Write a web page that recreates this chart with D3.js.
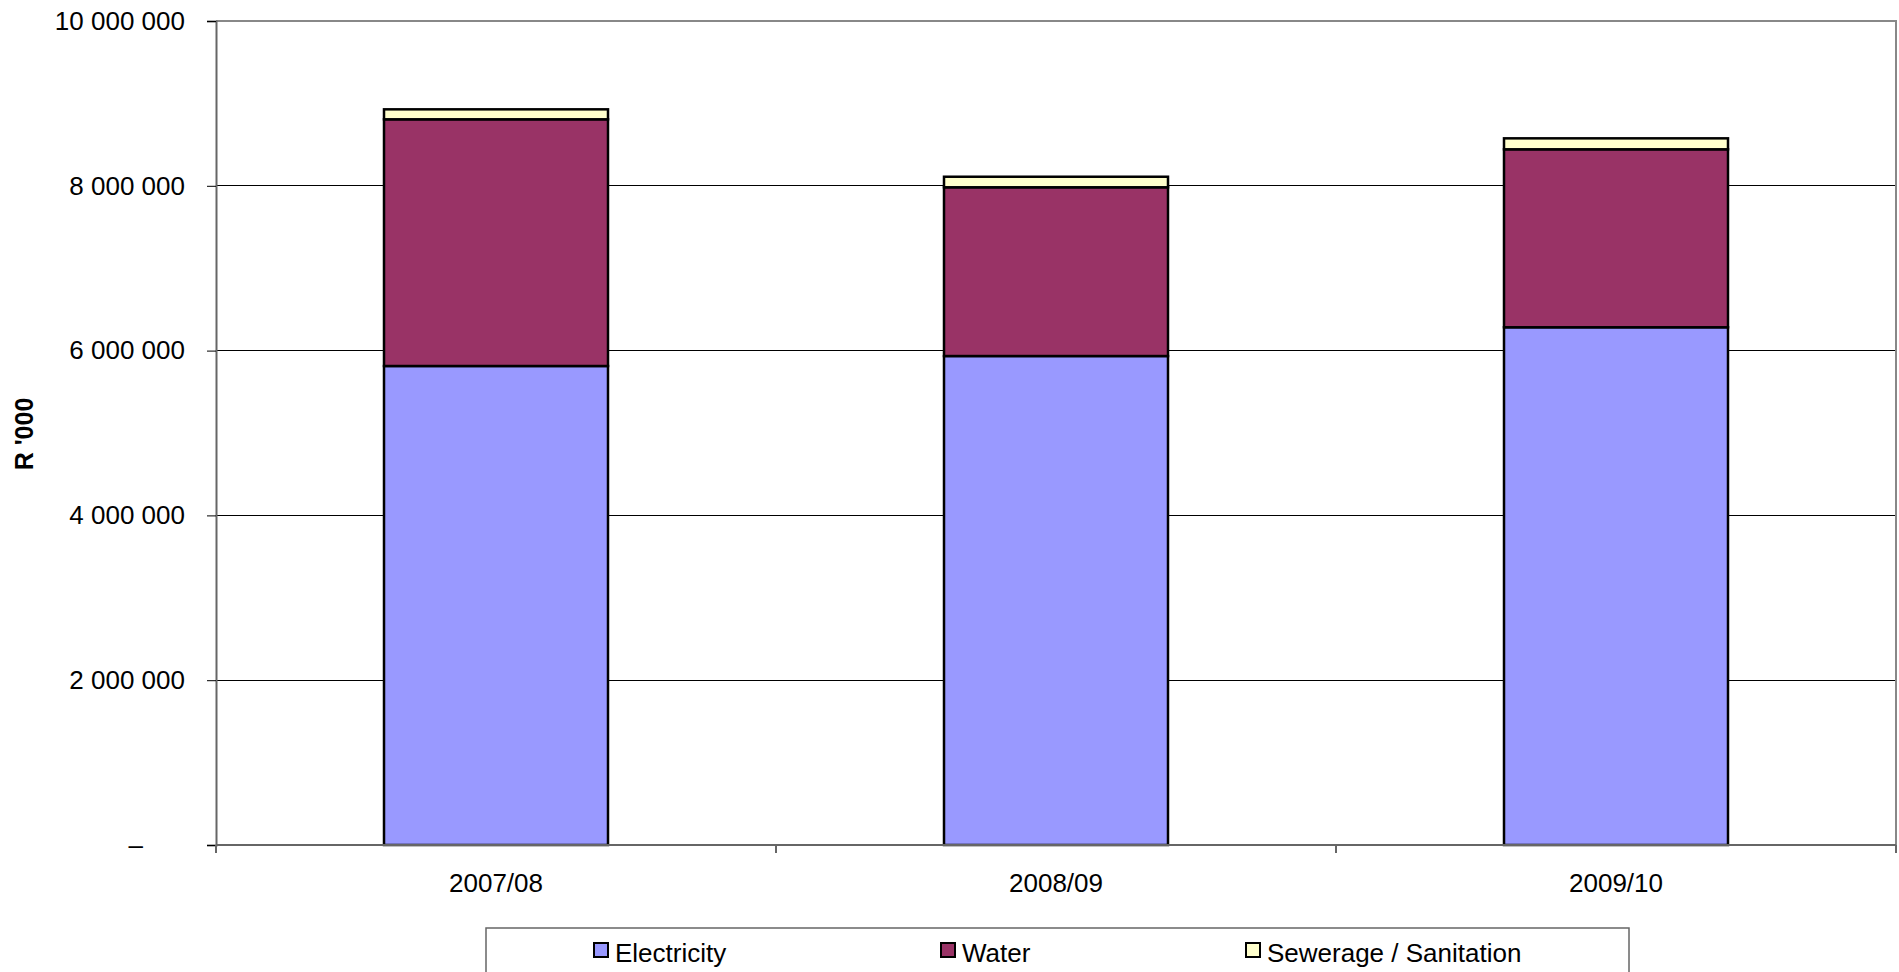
<!DOCTYPE html>
<html>
<head>
<meta charset="utf-8">
<script src="https://cdn.jsdelivr.net/npm/d3@7"></script>
<style>
  html, body { margin: 0; padding: 0; background: #fff; }
  svg { display: block; font-family: "Liberation Sans", Arial, sans-serif; }
</style>
</head>
<body>
<svg id="chart" width="1899" height="972"></svg>
<script>
const categories = ["2007/08", "2008/09", "2009/10"];
const seriesNames = ["Electricity", "Water", "Sewerage / Sanitation"];
const electricity = [5813000, 5934000, 6283000];
const water = [2994000, 2048000, 2160000];
const sewerage = [121000, 128000, 133000];
const yTicks = [0, 2000000, 4000000, 6000000, 8000000, 10000000];
const colors = ["#9999FF", "#993366", "#FFFFCC"];

const svg = d3.select("#chart");
const margin = { left: 216, top: 21, right: 3, bottom: 127 };
const W = 1899, H = 972;
const plotW = W - margin.left - margin.right;
const plotH = H - margin.top - margin.bottom;

const rows = categories.map((c, i) => ({
  cat: c,
  "Electricity": electricity[i],
  "Water": water[i],
  "Sewerage / Sanitation": sewerage[i]
}));
const stacked = d3.stack().keys(seriesNames)(rows);

const x = d3.scaleBand().domain(categories).range([0, plotW])
  .paddingInner(0.6).paddingOuter(0.3);
const y = d3.scaleLinear().domain([0, 10000000]).range([plotH, 0]);

const loc = d3.formatLocale({ decimal: ".", thousands: " ", grouping: [3], currency: ["", ""] });
const fmt = loc.format(",.0f");

const g = svg.append("g").attr("transform", `translate(${margin.left},${margin.top})`);

// gridlines
g.append("g").selectAll("line").data(yTicks.filter(v => v > 0 && v < 10000000)).join("line")
  .attr("x1", 0).attr("x2", plotW)
  .attr("y1", d => y(d)).attr("y2", d => y(d))
  .attr("stroke", "#000").attr("stroke-width", 1).attr("shape-rendering", "crispEdges");

// plot border top/right
g.append("path")
  .attr("d", `M0,${y(10000000)}H${plotW}V${plotH}`)
  .attr("fill", "none").attr("stroke", "#888").attr("stroke-width", 2);

// bars
g.append("g").selectAll("g").data(stacked).join("g")
  .attr("fill", (d, i) => colors[i])
  .selectAll("rect").data(d => d).join("rect")
  .attr("x", d => x(d.data.cat))
  .attr("width", x.bandwidth())
  .attr("y", d => y(d[1]))
  .attr("height", d => y(d[0]) - y(d[1]))
  .attr("stroke", "#000").attr("stroke-width", 2.5);

// y axis
const yAxis = g.append("g")
  .call(d3.axisLeft(y).tickValues(yTicks).tickSize(9).tickPadding(22)
    .tickFormat(d => d === 0 ? "\u2013" : fmt(d)));
yAxis.select(".domain").attr("stroke", "#666").attr("stroke-width", 2);
yAxis.selectAll(".tick line").attr("stroke", "#000");
yAxis.selectAll(".tick text").attr("font-size", 26).attr("fill", "#000")
  .attr("font-family", "'Liberation Sans', Arial, sans-serif");
yAxis.selectAll(".tick").filter(d => d === 0).select("text").attr("dx", -42);

// x axis
const step = x.step();
const bounds = categories.map(c => x(c) - step * x.paddingOuter()).concat([plotW]);
const xAxis = g.append("g").attr("transform", `translate(0,${plotH})`);
xAxis.append("line").attr("x1", 0).attr("x2", plotW).attr("y1", 0).attr("y2", 0)
  .attr("stroke", "#666").attr("stroke-width", 2);
xAxis.selectAll("line.tk").data(bounds).join("line").attr("class", "tk")
  .attr("x1", d => d).attr("x2", d => d).attr("y1", 0).attr("y2", 8)
  .attr("stroke", "#666").attr("stroke-width", 2);
xAxis.selectAll("text").data(categories).join("text")
  .attr("x", d => x(d) + x.bandwidth() / 2)
  .attr("y", 47)
  .attr("text-anchor", "middle")
  .attr("font-size", 26).attr("fill", "#000")
  .text(d => d);

// y title
svg.append("text")
  .attr("transform", "translate(33,434) rotate(-90)")
  .attr("text-anchor", "middle")
  .attr("font-size", 25).attr("font-weight", "bold")
  .text("R '000");

// legend
const lg = svg.append("g");
lg.append("rect").attr("x", 486).attr("y", 928).attr("width", 1143).attr("height", 60)
  .attr("fill", "#fff").attr("stroke", "#666").attr("stroke-width", 1.5);
const legendX = [593, 940, 1245];
const items = lg.selectAll("g.it").data(seriesNames).join("g").attr("class", "it")
  .attr("transform", (d, i) => `translate(${legendX[i]},942)`);
items.append("rect").attr("x", 1).attr("y", 1).attr("width", 14).attr("height", 14)
  .attr("fill", (d, i) => colors[i]).attr("stroke", "#000").attr("stroke-width", 2);
items.append("text").attr("x", 22).attr("y", 20)
  .attr("font-size", 26).attr("fill", "#000").text(d => d);
</script>
</body>
</html>
